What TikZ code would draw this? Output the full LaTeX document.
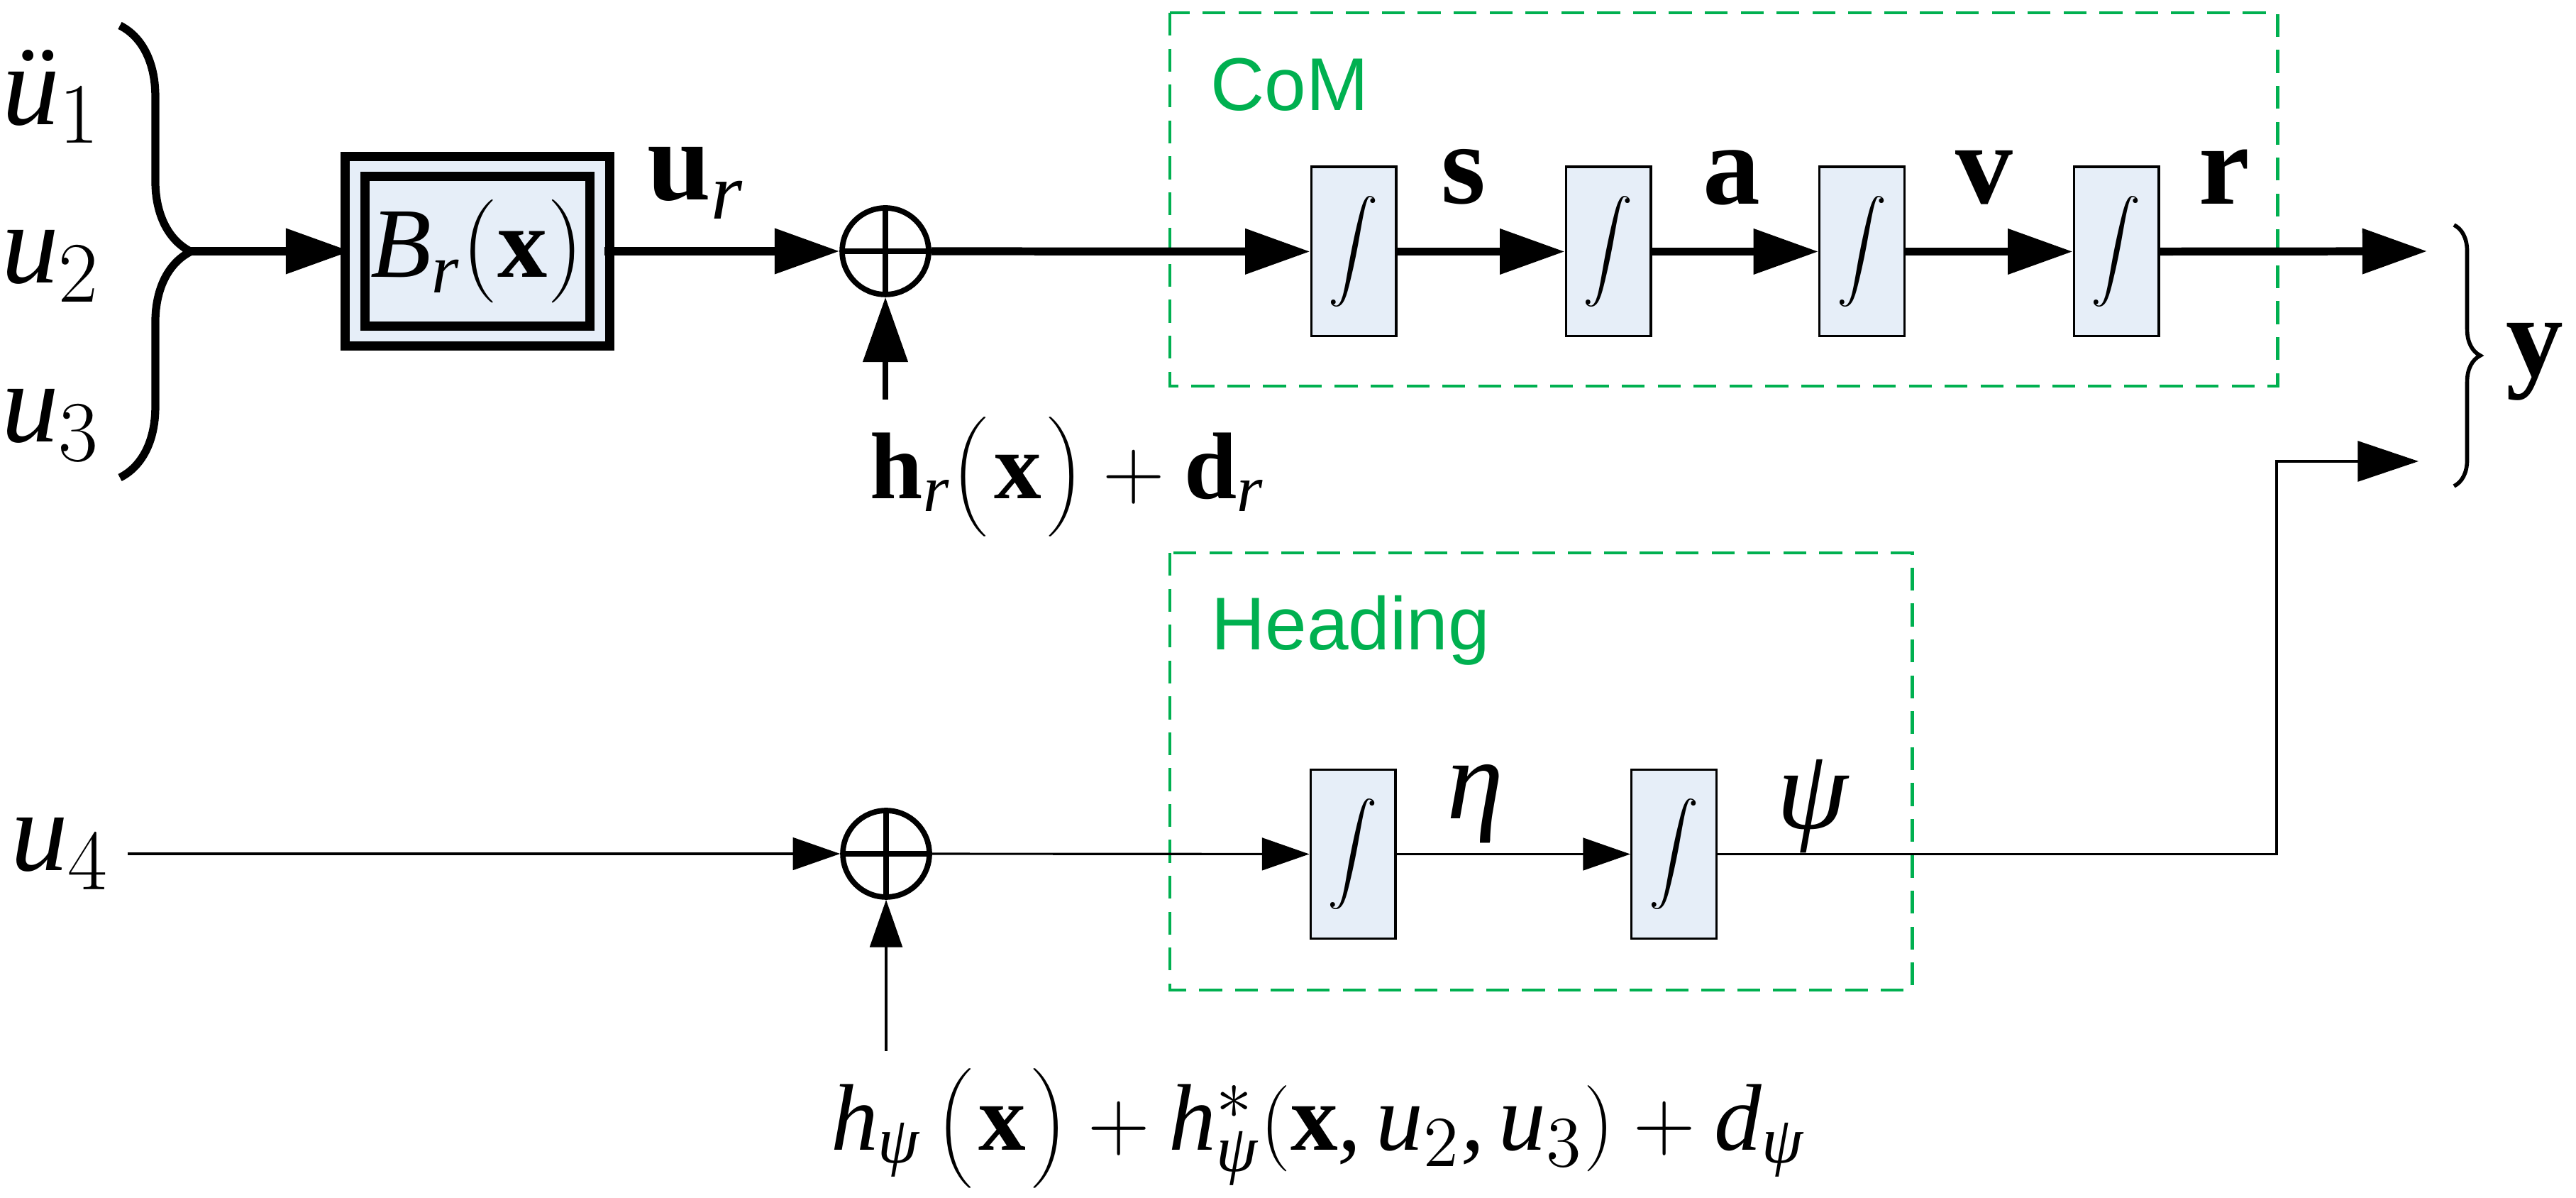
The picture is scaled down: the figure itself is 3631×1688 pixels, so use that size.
\documentclass[tikz,border=0pt]{standalone}
\usepackage{fontspec}
\setmainfont{Liberation Serif}
\newfontfamily\groupfont{Liberation Sans}
\DeclareSymbolFont{operators}{TU}{\rmdefault}{m}{n}
\DeclareSymbolFont{letters}{TU}{\rmdefault}{m}{it}
\DeclareMathAlphabet{\mathbf}{TU}{\rmdefault}{b}{n}
\Umathchardef\eta="0 \symletters "3B7\relax
\Umathchardef\psi="0 \symletters "3C8\relax
\mathcode`\,="612C
\newcommand{\lpar}[1]{\mathopen{\left(\vcenter to #1{}\right.}}
\newcommand{\rpar}[1]{\mathclose{\left.\vcenter to #1{}\right)}}
\usetikzlibrary{arrows.meta}
\usetikzlibrary{decorations.pathreplacing}
\definecolor{boxblue}{HTML}{E6EEF8}
\definecolor{groupgreen}{HTML}{00B050}

\begin{document}
\begin{tikzpicture}[x=0.005cm,y=-0.005cm]
		\tikzset{block/.style = {draw,line width=0.45pt,fill=boxblue,minimum width=0.6cm,minimum height=1.195cm,inner sep=0pt,font=\fontsize{16}{18}\selectfont}}
		\tikzset{gain/.style = {draw,line width=1.85pt,double=boxblue,double distance=2.1pt,fill=boxblue,minimum width=1.725cm,minimum height=1.195cm,inner sep=0pt,font=\fontsize{20}{24}\selectfont}}
		\tikzset{sum/.style = {shape=circle,draw,line width=1.1pt,minimum size=0.61cm,inner sep=0pt,
				path picture={\draw[line width=1.1pt] (path picture bounding box.north) -- (path picture bounding box.south)
					(path picture bounding box.west) -- (path picture bounding box.east);}}}
		\tikzset{sig/.style = {font=\fontsize{23}{27}\selectfont}}
		\tikzset{dist/.style = {font=\fontsize{19}{23}\selectfont}}
		\tikzset{group/.style = {draw=groupgreen,line width=0.7pt,dash pattern=on 4.6pt off 2.6pt}}
		\tikzset{grouplabel/.style = {text=groupgreen,anchor=base west,inner sep=0pt,font=\groupfont\fontsize{15}{18}\selectfont}}
		\tikzset{edge/.style = {-{Triangle[length=13pt,width=8.8pt]},line width=1.6pt}}
		\tikzset{thin edge/.style = {-{Triangle[length=9.5pt,width=6.5pt]},line width=0.45pt}}
		\tikzset{out edge/.style = {-{Triangle[length=12.2pt,width=8.1pt]},line width=0.45pt}}
		\useasboundingbox (0,0) rectangle (3631,1688);
		% groups
		\draw[group] (1649,18) rectangle (3210,544);
		\draw[group] (1649,779) rectangle (2695,1395);
		\node[grouplabel] (com) at (1705,156) {CoM};
		\node[grouplabel] (heading) at (1706,916) {Heading};
		% inputs
		\node[sig] (u1) at (73,136) {$\mbox{\itshape ü}_1$};
		\node[sig] (u2) at (72,375) {$u_2$};
		\node[sig] (u3) at (72,599) {$u_3$};
		\node[sig] (u4) at (85,1203) {$u_4$};
		\draw[line width=1.6pt,decorate,decoration={brace,amplitude=0.5cm}] (169,36) -- (169,673);
		\coordinate (fork) at (268,354);
		% blocks
		\node[gain] (br) at (673,354) {$B_r(\mathbf{x})$};
		\node[sum] (sum1) at (1248,354) {};
		\node[block] (int1) at (1908,354.5) {$\displaystyle\int$};
		\node[block] (int2) at (2267,354.5) {$\displaystyle\int$};
		\node[block] (int3) at (2624.5,354.5) {$\displaystyle\int$};
		\node[block] (int4) at (2983,354.5) {$\displaystyle\int$};
		\node[sum] (sum2) at (1249,1203) {};
		\node[block] (int5) at (1907,1203.5) {$\displaystyle\int$};
		\node[block] (int6) at (2359.5,1203.5) {$\displaystyle\int$};
		% signals
		\node[sig] (ur) at (981,258) {$\mathbf{u}_r$};
		\node[sig] (s) at (2063,249) {$\mathbf{s}$};
		\node[sig] (a) at (2441,250) {$\mathbf{a}$};
		\node[sig] (v) at (2797,250) {$\mathbf{v}$};
		\node[sig] (r) at (3135,249) {$\mathbf{r}$};
		\node[sig] (eta) at (2080,1133) {$\eta$};
		\node[sig] (psi) at (2555,1136) {$\psi$};
		\node[dist] (hr) at (1505,672) {$\mathbf{h}_r\lpar{23pt}\mathbf{x}\rpar{23pt}+\mathbf{d}_r$};
		\node[dist] (hpsi) at (1858,1590) {$h_\psi\,\lpar{22pt}\mathbf{x}\rpar{22pt}+h^*_\psi(\mathbf{x},u_2,u_3)+d_\psi$};
		\coordinate (yr) at (3421,354);
		\coordinate (ypsi) at (3409,650);
		\coordinate (corner) at (3209,650);
		\draw[line width=0.8pt,decorate,decoration={brace,amplitude=0.185cm}] (3459,317) -- (3459,685);
		\node[sig] (y) at (3573,510) {$\mathbf{y}$};
		% edges
		\draw[edge] (fork) -- (br);
		\draw[edge] (br) -- (sum1);
		\draw[edge] (sum1) -- (int1);
		\draw[edge] (int1) -- (int2);
		\draw[edge] (int2) -- (int3);
		\draw[edge] (int3) -- (int4);
		\draw[edge] (int4) -- (yr);
		\draw[edge,line width=1.2pt] (hr.north -| sum1) -- (sum1);
		\draw[thin edge] (u4) -- (sum2);
		\draw[thin edge] (sum2) -- (int5);
		\draw[thin edge] (int5) -- (int6);
		\draw[thin edge] (hpsi.north -| sum2) -- (sum2);
		\draw[out edge] (int6) -| (corner) -- (ypsi);
\end{tikzpicture}
\end{document}
